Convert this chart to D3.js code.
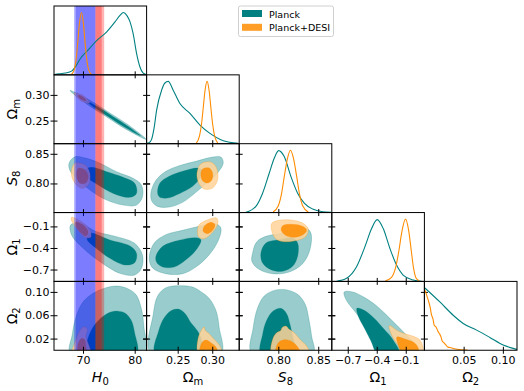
<!DOCTYPE html>
<html><head><meta charset="utf-8">
<script src="https://cdn.jsdelivr.net/npm/d3@7"></script>
<style>body{margin:0;background:#fff}svg{display:block;font-family:"DejaVu Sans",sans-serif}</style>
</head><body><svg id="c" width="524" height="391"></svg>
<script>
// ---------------- data ----------------
const paramNames = ["H0", "Om", "S8", "O1", "O2"];
const seriesNames = ["Planck", "Planck+DESI"];
const domainH0 = [64.4, 82.3];
const domainOm = [0.205, 0.339];
const domainS8 = [0.751, 0.867];
const domainO1 = [-0.865, 0.093];
const domainO2 = [0, 0.118];
const ticksH0 = [70, 80];
const ticksOm = [0.25, 0.30];
const ticksS8 = [0.80, 0.85];
const ticksO1 = [-0.7, -0.4, -0.1];
const ticksO2x = [0.05, 0.10];
const ticksO2y = [0.02, 0.06, 0.10];
// H0 reference bands (two-level each)
const blueBandOuter = [68.28, 72.42];
const blueBandInner = [68.6, 72.42];
const redBandOuter = [72.42, 74.1];
const redBandInner = [72.42, 73.62];

// 1D marginals [value, normalized density]
const H0_planck_1d = [[64.4,0.005],[65.4,0.015],[66.6,0.03],[67.8,0.06],[68.7,0.15],[69.4,0.25],[71.0,0.40],[72.6,0.546],[74.6,0.69],[76.2,0.85],[77.2,0.96],[77.8,1.0],[78.5,0.95],[79.1,0.85],[79.7,0.66],[80.35,0.35],[81.0,0.13],[81.6,0.03],[82.2,0.005]];
const H0_desi_1d = [[67.8,0.01],[68.3,0.08],[68.7,0.27],[69.0,0.53],[69.3,0.81],[69.7,1.0],[70.1,0.81],[70.4,0.53],[70.7,0.27],[71.1,0.08],[71.6,0.01]];
const Om_planck_1d = [[0.205,0.006],[0.2085,0.015],[0.2122,0.07],[0.2158,0.25],[0.2195,0.538],[0.2267,0.858],[0.2315,0.974],[0.2363,1.0],[0.2435,0.858],[0.2532,0.645],[0.2677,0.486],[0.2822,0.299],[0.2967,0.166],[0.316,0.048],[0.3375,0.006]];
const Om_desi_1d = [[0.277,0.01],[0.2815,0.12],[0.2845,0.32],[0.287,0.58],[0.2895,0.85],[0.2925,1.0],[0.2955,0.85],[0.298,0.58],[0.3005,0.32],[0.3035,0.12],[0.308,0.01]];
const S8_planck_1d = [[0.7594,0.003],[0.7719,0.099],[0.7803,0.311],[0.7886,0.631],[0.7949,0.871],[0.8004,0.994],[0.8074,0.898],[0.8158,0.578],[0.8242,0.311],[0.8325,0.152],[0.843,0.056],[0.8555,0.013],[0.866,0.003]];
const S8_desi_1d = [[0.7935,0.01],[0.800,0.11],[0.804,0.3],[0.8075,0.58],[0.8115,0.87],[0.8152,1.0],[0.819,0.87],[0.823,0.58],[0.8265,0.3],[0.8305,0.11],[0.8375,0.01]];
const O1_planck_1d = [[-0.815,0.002],[-0.712,0.05],[-0.609,0.235],[-0.523,0.554],[-0.453,0.848],[-0.396,0.992],[-0.333,0.848],[-0.264,0.529],[-0.195,0.262],[-0.127,0.102],[-0.023,0.022],[0.064,0.002]];
const O1_desi_1d = [[-0.31,0.01],[-0.25,0.06],[-0.205,0.22],[-0.17,0.5],[-0.14,0.8],[-0.102,1.0],[-0.07,0.82],[-0.045,0.52],[-0.02,0.22],[0.005,0.06],[0.04,0.01]];
const O2_planck_1d = [[0.0006,0.999],[0.0197,0.775],[0.0367,0.562],[0.0494,0.43],[0.0665,0.323],[0.0834,0.206],[0.1004,0.083],[0.1131,0.03],[0.118,0.014]];
const O2_desi_1d = [[0.0006,0.97],[0.003,0.88],[0.005,0.80],[0.0075,0.68],[0.009,0.57],[0.011,0.50],[0.0125,0.40],[0.015,0.37],[0.017,0.31],[0.019,0.27],[0.021,0.22],[0.023,0.14],[0.025,0.12],[0.027,0.09],[0.030,0.05],[0.034,0.04],[0.038,0.025],[0.042,0.015],[0.048,0.008],[0.055,0.003]];

// 2D contours [x, y] (95% and 68%)
const H0_Om_planck95 = [[67.5,0.3085],[71.5,0.2887],[75.12,0.2653],[78.74,0.2418],[82.2,0.2135],[78.22,0.2336],[74.6,0.2571],[70.98,0.2805]];
const H0_Om_planck68 = [[69.3,0.2970],[72.82,0.2772],[75.72,0.2584],[78.62,0.2396],[81.15,0.2204],[78.34,0.2354],[75.44,0.2542],[72.55,0.2730]];
const H0_Om_desi95 = [[68.3,0.3036],[70.08,0.2985],[71.3,0.2842],[69.5,0.2893]];
const H0_Om_desi68 = [[69.0,0.2990],[69.96,0.2964],[70.6,0.2886],[69.64,0.2914]];

const H0_S8_planck95 = [[67.3,0.834],[68.45,0.845],[70.7,0.8423],[73.3,0.834],[76.5,0.8197],[79.7,0.8086],[81.3,0.7973],[81.5,0.7776],[80.35,0.7636],[77.8,0.7636],[74.6,0.772],[71.35,0.7889],[68.8,0.8086],[67.5,0.8214]];
const H0_S8_planck68 = [[70.4,0.8226],[71.7,0.8272],[74.6,0.8197],[77.8,0.8103],[80.0,0.8002],[80.35,0.7833],[79.1,0.7766],[75.85,0.7833],[72.95,0.7973],[70.8,0.8103]];
const H0_S8_desi95 = [[68.45,0.8339],[70.4,0.831],[71.35,0.817],[71.0,0.7973],[69.75,0.7918],[68.25,0.8029],[67.75,0.8198]];
const H0_S8_desi68 = [[69.1,0.8255],[70.4,0.8226],[71.0,0.8113],[70.6,0.8012],[69.4,0.8002],[68.8,0.8115]];

const H0_O1_planck95 = [[67.6,-0.0806],[69.4,-0.057],[72.65,-0.174],[76.5,-0.243],[80.0,-0.335],[81.5,-0.498],[81.3,-0.683],[80.0,-0.776],[77.1,-0.752],[73.3,-0.591],[70.05,-0.405],[67.8,-0.22]];
const H0_O1_planck68 = [[71.35,-0.196],[75.2,-0.289],[79.1,-0.373],[80.35,-0.474],[80.0,-0.605],[78.1,-0.637],[75.2,-0.544],[72.3,-0.391],[70.8,-0.279]];
const H0_O1_desi95 = [[67.8,0.026],[69.75,-0.035],[71.35,-0.15],[71.5,-0.252],[70.4,-0.252],[68.8,-0.126],[67.7,0.0]];
const H0_O1_desi68 = [[68.65,-0.035],[70.05,-0.081],[71.0,-0.174],[70.6,-0.234],[69.4,-0.174],[68.65,-0.095]];

const H0_O2_planck95 = [[67.6,-0.006],[67.93,0.027],[68.6,0.0557],[69.9,0.0814],[71.8,0.0968],[74.05,0.106],[76.3,0.11],[78.25,0.107],[80.2,0.0958],[81.25,0.0728],[81.8,0.0386],[82.0,-0.006]];
const H0_O2_planck68 = [[70.6,-0.006],[71.0,0.0209],[72.1,0.0415],[73.7,0.057],[75.4,0.0655],[76.75,0.067],[78.1,0.064],[79.3,0.0518],[80.0,0.0295],[80.35,-0.006]];
const H0_O2_desi95 = [[67.8,-0.006],[68.25,0.0089],[68.8,0.022],[69.4,0.0334],[70.25,0.0403],[70.8,0.0358],[70.55,0.0231],[71.05,0.0106],[71.45,-0.006]];
const H0_O2_desi68 = [[69.1,-0.006],[69.1,0.0118],[69.75,0.0204],[70.4,0.0175],[70.55,0.006],[70.6,-0.006]];

const Om_S8_planck95 = [[0.2112,0.7839],[0.2185,0.8053],[0.2329,0.8204],[0.2522,0.8299],[0.2763,0.8373],[0.3005,0.8445],[0.3125,0.8445],[0.3159,0.8344],[0.3077,0.8176],[0.2933,0.8019],[0.2763,0.785],[0.2571,0.7682],[0.2377,0.7603],[0.2209,0.7614],[0.2127,0.7699]];
const Om_S8_planck68 = [[0.2209,0.7839],[0.2243,0.8007],[0.2377,0.812],[0.2571,0.8204],[0.2788,0.826],[0.285,0.8221],[0.2821,0.8091],[0.2716,0.7952],[0.2522,0.7827],[0.2354,0.7755],[0.2243,0.7766]];
const Om_S8_desi95 = [[0.2836,0.8332],[0.2981,0.8361],[0.3063,0.826],[0.3077,0.8063],[0.3005,0.7923],[0.2884,0.7906],[0.2803,0.8007],[0.2779,0.8176]];
const Om_S8_desi68 = [[0.286,0.8243],[0.2956,0.826],[0.3005,0.8176],[0.2995,0.8063],[0.2933,0.8007],[0.286,0.8046],[0.2836,0.8147]];

const Om_O1_planck95 = [[0.2088,-0.5395],[0.216,-0.331],[0.2329,-0.2155],[0.2571,-0.154],[0.2811,-0.0987],[0.3053,-0.0625],[0.3125,-0.1223],[0.3092,-0.285],[0.2956,-0.494],[0.2763,-0.665],[0.2571,-0.758],[0.2329,-0.758],[0.2137,-0.679]];
const Om_O1_planck68 = [[0.2185,-0.516],[0.2282,-0.377],[0.2522,-0.293],[0.2763,-0.257],[0.2836,-0.285],[0.2763,-0.432],[0.2619,-0.563],[0.2449,-0.665],[0.2282,-0.665],[0.2195,-0.6]];
const Om_O1_desi95 = [[0.2811,-0.076],[0.2956,0.0],[0.3063,0.0168],[0.3082,-0.053],[0.3005,-0.182],[0.2884,-0.271],[0.2803,-0.2475],[0.2787,-0.154]];
const Om_O1_desi68 = [[0.2884,-0.0987],[0.2981,-0.043],[0.3039,-0.076],[0.3005,-0.154],[0.2933,-0.2015],[0.2869,-0.168]];

const S8_O1_planck95 = [[0.7678,-0.47],[0.7728,-0.317],[0.7845,-0.238],[0.8011,-0.2015],[0.8179,-0.154],[0.8346,-0.1223],[0.8408,-0.192],[0.8396,-0.424],[0.8304,-0.619],[0.8137,-0.734],[0.7929,-0.758],[0.7753,-0.693],[0.7669,-0.585]];
const S8_O1_planck68 = [[0.7782,-0.47],[0.7845,-0.331],[0.8011,-0.285],[0.8179,-0.261],[0.8242,-0.331],[0.8242,-0.516],[0.8179,-0.655],[0.8054,-0.725],[0.7907,-0.702],[0.7803,-0.609]];
const S8_O1_desi95 = [[0.792,-0.053],[0.8095,-0.007],[0.8304,-0.053],[0.8375,-0.136],[0.8346,-0.238],[0.8242,-0.293],[0.8075,-0.313],[0.7971,-0.275],[0.7916,-0.154]];
const S8_O1_desi68 = [[0.8054,-0.0903],[0.8179,-0.0709],[0.8304,-0.0987],[0.8355,-0.154],[0.8304,-0.2195],[0.8179,-0.2515],[0.8086,-0.2195],[0.8036,-0.154]];

const Om_O2_planck95 = [[0.2112,-0.006],[0.2146,0.0615],[0.2209,0.0929],[0.2329,0.1071],[0.2522,0.1106],[0.2716,0.1083],[0.2836,0.1003],[0.2956,0.0889],[0.3053,0.0684],[0.3101,0.0386],[0.3125,-0.006]];
const Om_O2_planck68 = [[0.2175,-0.006],[0.2224,0.0329],[0.2305,0.0557],[0.2416,0.0684],[0.2522,0.0701],[0.2609,0.0626],[0.2691,0.0472],[0.2788,0.0329],[0.285,0.0158],[0.2869,-0.006]];
const Om_O2_desi95 = [[0.2802,-0.006],[0.2792,0.0187],[0.2836,0.0329],[0.2884,0.0403],[0.2898,0.0341],[0.2956,0.0283],[0.3028,0.0187],[0.3111,0.0072],[0.314,-0.006]];
const Om_O2_desi68 = [[0.2826,-0.006],[0.285,0.0129],[0.2908,0.0175],[0.2981,0.0129],[0.3053,0.0055],[0.3077,-0.006]];

const S8_O2_planck95 = [[0.7669,-0.006],[0.7685,0.0386],[0.7741,0.0728],[0.7823,0.0929],[0.7949,0.1026],[0.8095,0.1037],[0.8242,0.0958],[0.8337,0.0787],[0.8387,0.05],[0.8417,0.0243],[0.8437,-0.006]];
const S8_O2_planck68 = [[0.7782,-0.006],[0.7803,0.0272],[0.7853,0.0512],[0.7936,0.0672],[0.8033,0.0718],[0.8104,0.0626],[0.8146,0.0444],[0.8179,0.0243],[0.8212,-0.006]];
const S8_O2_desi95 = [[0.792,-0.006],[0.7936,0.0214],[0.7979,0.03],[0.8033,0.0341],[0.8045,0.0386],[0.8095,0.0415],[0.8137,0.0358],[0.82,0.03],[0.8283,0.017],[0.8355,0.0072],[0.8387,-0.006]];
const S8_O2_desi68 = [[0.7971,-0.006],[0.8,0.0129],[0.8075,0.018],[0.8158,0.0158],[0.8233,0.0072],[0.8274,-0.006]];

const O1_O2_planck95 = [[-0.737,0.0999],[-0.65,0.0999],[-0.53,0.0908],[-0.409,0.0771],[-0.306,0.0615],[-0.202,0.0444],[-0.099,0.0272],[0.0047,0.0089],[0.039,-0.006],[-0.271,-0.006],[-0.357,0.0129],[-0.495,0.0386],[-0.616,0.0643],[-0.719,0.0872]];
const O1_O2_planck68 = [[-0.605,0.0718],[-0.53,0.0684],[-0.427,0.0547],[-0.323,0.0358],[-0.236,0.0187],[-0.168,-0.006],[-0.391,-0.006],[-0.46,0.0158],[-0.53,0.0386],[-0.592,0.0586]];
const O1_O2_desi95 = [[-0.271,0.0422],[-0.185,0.0336],[-0.109,0.0283],[-0.029,0.0243],[0.049,0.017],[0.074,-0.006],[-0.099,-0.006],[-0.185,0.0101],[-0.236,0.0226]];
const O1_O2_desi68 = [[-0.192,0.0226],[-0.099,0.0187],[-0.013,0.0129],[0.028,0.0043],[0.028,-0.006],[-0.133,-0.006],[-0.178,0.0089]];

// ---------------- lookup tables built from the arrays ----------------
const domains = {H0: domainH0, Om: domainOm, S8: domainS8, O1: domainO1, O2: domainO2};
const xTicks = {H0: ticksH0, Om: ticksOm, S8: ticksS8, O1: ticksO1, O2: ticksO2x};
const yTicks = {H0: ticksH0, Om: ticksOm, S8: ticksS8, O1: ticksO1, O2: ticksO2y};
const fmts = {H0: d3.format("d"), Om: d3.format(".2f"), S8: d3.format(".2f"), O1: d3.format(".1f"), O2: d3.format(".2f")};
const marg = {
  H0: [H0_planck_1d, H0_desi_1d], Om: [Om_planck_1d, Om_desi_1d], S8: [S8_planck_1d, S8_desi_1d],
  O1: [O1_planck_1d, O1_desi_1d], O2: [O2_planck_1d, O2_desi_1d]
};
const contours = {
  "H0|Om": [H0_Om_planck95, H0_Om_planck68, H0_Om_desi95, H0_Om_desi68],
  "H0|S8": [H0_S8_planck95, H0_S8_planck68, H0_S8_desi95, H0_S8_desi68],
  "H0|O1": [H0_O1_planck95, H0_O1_planck68, H0_O1_desi95, H0_O1_desi68],
  "H0|O2": [H0_O2_planck95, H0_O2_planck68, H0_O2_desi95, H0_O2_desi68],
  "Om|S8": [Om_S8_planck95, Om_S8_planck68, Om_S8_desi95, Om_S8_desi68],
  "Om|O1": [Om_O1_planck95, Om_O1_planck68, Om_O1_desi95, Om_O1_desi68],
  "Om|O2": [Om_O2_planck95, Om_O2_planck68, Om_O2_desi95, Om_O2_desi68],
  "S8|O1": [S8_O1_planck95, S8_O1_planck68, S8_O1_desi95, S8_O1_desi68],
  "S8|O2": [S8_O2_planck95, S8_O2_planck68, S8_O2_desi95, S8_O2_desi68],
  "O1|O2": [O1_O2_planck95, O1_O2_planck68, O1_O2_desi95, O1_O2_desi68]
};

// ---------------- drawing ----------------
const svg = d3.select("#c");
const L = 54, T = 6, PW = 92.6, PH = 68.85, N = paramNames.length;
const TL = 3.5;
const teal = "#008080", tealLight = "#99cccc", orange = "#ff8c00", orangeLight = "#ffd399";
const fills = [tealLight, teal, orangeLight, orange];
const fillOp = [1, 1, 0.85, 0.85];

const xs = {}, ys = {};
paramNames.forEach((p, i) => {
  xs[p] = d3.scaleLinear().domain(domains[p]).range([L + i * PW, L + (i + 1) * PW]);
  ys[p] = d3.scaleLinear().domain(domains[p]).range([T + (i + 1) * PH, T + i * PH]);
});
const dens = i => d3.scaleLinear().domain([0, 1.105]).range([T + (i + 1) * PH, T + i * PH]);

const defs = svg.append("defs");
for (let i = 0; i < N; i++) for (let j = 0; j <= i; j++) {
  defs.append("clipPath").attr("id", `cp${i}${j}`).append("rect")
    .attr("x", L + j * PW).attr("y", T + i * PH).attr("width", PW).attr("height", PH);
}

function drawBands(g, x, i) {
  const yTop = T + i * PH;
  const bands = [[blueBandOuter, "#0000ff"], [blueBandInner, "#0000ff"], [redBandOuter, "#ff0000"], [redBandInner, "#ff0000"]];
  bands.forEach(([b, c]) => {
    g.append("rect").attr("x", x(b[0])).attr("y", yTop).attr("width", x(b[1]) - x(b[0])).attr("height", PH)
      .attr("fill", c).attr("fill-opacity", 0.3);
  });
}

for (let i = 0; i < N; i++) {
  for (let j = 0; j <= i; j++) {
    const px = paramNames[j], py = paramNames[i];
    const x = xs[px];
    const g = svg.append("g").attr("clip-path", `url(#cp${i}${j})`);
    if (i === j) {
      if (j === 0) drawBands(g, x, i);
      const y = dens(i);
      const line = d3.line().x(d => x(d[0])).y(d => y(d[1])).curve(d3.curveMonotoneX);
      marg[px].forEach((arr, k) => {
        g.append("path").attr("d", line(arr)).attr("fill", "none")
          .attr("stroke", k === 0 ? teal : orange).attr("stroke-width", 1.1);
      });
    } else {
      const y = ys[py];
      const area = d3.line().x(d => x(d[0])).y(d => y(d[1])).curve(d3.curveCatmullRomClosed.alpha(0.5));
      const cs = contours[px + "|" + py];
      cs.forEach((arr, k) => {
        g.append("path").attr("d", area(arr)).attr("fill", fills[k]).attr("fill-opacity", fillOp[k])
          .attr("stroke", k < 2 ? teal : orange).attr("stroke-opacity", 0.35).attr("stroke-width", 0.7);
      });
      if (j === 0) drawBands(g, x, i);
    }
    // frame
    svg.append("rect").attr("x", L + j * PW).attr("y", T + i * PH).attr("width", PW).attr("height", PH)
      .attr("fill", "none").attr("stroke", "#000").attr("stroke-width", 1);

    // x ticks (bottom)
    const isBottom = i === N - 1;
    const ax = svg.append("g").attr("transform", `translate(0,${T + (i + 1) * PH - TL})`)
      .call(d3.axisBottom(x).tickValues(xTicks[px]).tickSize(2 * TL).tickPadding(2.5)
        .tickFormat(isBottom ? fmts[px] : () => ""));
    ax.select(".domain").remove();
    ax.attr("font-size", 11).attr("font-family", "DejaVu Sans");
    ax.selectAll("line").attr("stroke", "#000");
    ax.selectAll("text").attr("fill", "#000");

    // y ticks (left and right edges of 2D panels)
    if (i !== j) {
      const y = ys[py];
      const ay = svg.append("g").attr("transform", `translate(${L + j * PW + TL},0)`)
        .call(d3.axisLeft(y).tickValues(yTicks[py]).tickSize(2 * TL).tickPadding(1)
          .tickFormat(j === 0 ? fmts[py] : () => ""));
      ay.select(".domain").remove();
      ay.attr("font-size", 11).attr("font-family", "DejaVu Sans");
      ay.selectAll("line").attr("stroke", "#000");
      ay.selectAll("text").attr("fill", "#000");
      const ar = svg.append("g").attr("transform", `translate(${L + (j + 1) * PW + TL},0)`)
        .call(d3.axisLeft(y).tickValues(yTicks[py]).tickSize(2 * TL).tickFormat(() => ""));
      ar.select(".domain").remove();
      ar.selectAll("line").attr("stroke", "#000");
    }
  }
}

// axis labels
const labelParts = {
  H0: [["H", "italic"], ["0", "sub"]],
  Om: [["Ω", "normal"], ["m", "sub"]],
  S8: [["S", "italic"], ["8", "sub"]],
  O1: [["Ω", "normal"], ["1", "sub"]],
  O2: [["Ω", "normal"], ["2", "sub"]]
};
function addLabel(sel, p) {
  labelParts[p].forEach(([t, kind]) => {
    const ts = sel.append("tspan").text(t);
    if (kind === "italic") ts.attr("font-style", "italic");
    if (kind === "sub") ts.attr("font-size", 10).attr("dy", 3);
  });
}
paramNames.forEach((p, j) => {
  const t = svg.append("text").attr("x", L + (j + 0.5) * PW).attr("y", 382)
    .attr("text-anchor", "middle").attr("font-size", 14).attr("fill", "#000");
  addLabel(t, p);
});
paramNames.slice(1).forEach((p, k) => {
  const i = k + 1;
  const t = svg.append("text").attr("transform", `translate(17,${T + (i + 0.5) * PH}) rotate(-90)`)
    .attr("text-anchor", "middle").attr("font-size", 14).attr("fill", "#000");
  addLabel(t, p);
});

// legend
const lg = svg.append("g");
lg.append("rect").attr("x", 238.5).attr("y", 6).attr("width", 95).attr("height", 30.5).attr("rx", 2)
  .attr("fill", "#fff").attr("stroke", "#d0d0d0").attr("stroke-width", 1);
seriesNames.forEach((s, k) => {
  lg.append("rect").attr("x", 242).attr("y", 10 + k * 13.8).attr("width", 20).attr("height", 7)
    .attr("fill", k === 0 ? teal : orange).attr("fill-opacity", k === 0 ? 1 : 0.85);
  lg.append("text").attr("x", 269).attr("y", 17.5 + k * 13.8).attr("font-size", 9.5).attr("fill", "#000").text(s);
});
</script>
</body></html>
